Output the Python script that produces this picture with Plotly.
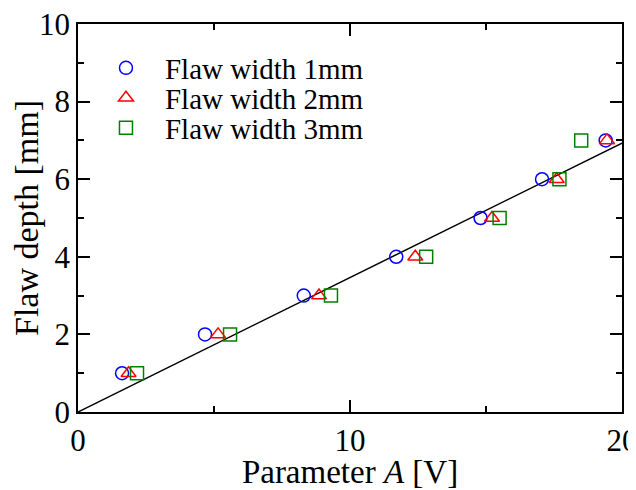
import plotly.graph_objects as go

depth = [1, 2, 3, 4, 5, 6, 7]
a_w1 = [1.62, 4.67, 8.3, 11.7, 14.8, 17.06, 19.4]
a_w2 = [1.86, 5.15, 8.86, 12.4, 15.22, 17.6, 19.45]
a_w3 = [2.17, 5.59, 9.3, 12.8, 15.5, 17.7, 18.5]
fit_x = [0, 20]
fit_y = [0, 6.93]

font = "Liberation Serif, Times New Roman, serif"

fig = go.Figure()
fig.add_trace(go.Scatter(x=fit_x, y=fit_y, mode="lines", line=dict(color="black", width=1.5),
                         showlegend=False))
fig.add_trace(go.Scatter(x=a_w1, y=depth, mode="markers", name="Flaw width 1mm", legend="legend",
                         marker=dict(symbol="circle-open", size=13, color="blue", line=dict(width=1.5))))
fig.add_trace(go.Scatter(x=a_w2, y=depth, mode="markers", name="Flaw width 2mm", legend="legend2",
                         marker=dict(symbol="triangle-up-open", size=13, color="red", line=dict(width=1.5))))
fig.add_trace(go.Scatter(x=a_w3, y=depth, mode="markers", name="Flaw width 3mm", legend="legend3",
                         marker=dict(symbol="square-open", size=13, color="green", line=dict(width=1.5))))

axis_common = dict(showgrid=False, zeroline=False, showline=True, linecolor="black", linewidth=1.5,
                   mirror="ticks", ticks="inside", ticklen=12, tickwidth=1.5, tickcolor="black",
                   automargin=False, ticklabeloverflow="allow",
                   tickfont=dict(family=font, size=31, color="black"))
fig.update_xaxes(range=[0, 20], tickvals=[0, 10, 20], ticktext=["0", "10", "20"],
                 minor=dict(tickvals=[5, 15], ticks="inside", ticklen=6, tickwidth=1.5, tickcolor="black"),
                 title=dict(text="Parameter <i>A</i> [V]", font=dict(family=font, size=33, color="black"),
                            standoff=15),
                 **axis_common)
fig.update_yaxes(range=[0, 10], tickvals=[0, 2, 4, 6, 8, 10],
                 minor=dict(tickvals=[1, 3, 5, 7, 9], ticks="inside", ticklen=6, tickwidth=1.5, tickcolor="black"),
                 title=dict(text="Flaw depth [mm]", font=dict(family=font, size=34, color="black"),
                            standoff=0),
                 **axis_common)

leg_common = dict(xanchor="left", yanchor="middle", bgcolor="rgba(0,0,0,0)",
                  font=dict(family=font, size=29, color="black"), itemwidth=68)
fig.update_layout(width=628, height=482, margin=dict(l=70, r=14, t=16, b=78),
                  plot_bgcolor="white", paper_bgcolor="white",
                  legend=dict(x=0.0165, y=0.8866, **leg_common),
                  legend2=dict(x=0.0165, y=0.8093, **leg_common),
                  legend3=dict(x=0.0165, y=0.732, **leg_common))
fig.write_html("out.html")
